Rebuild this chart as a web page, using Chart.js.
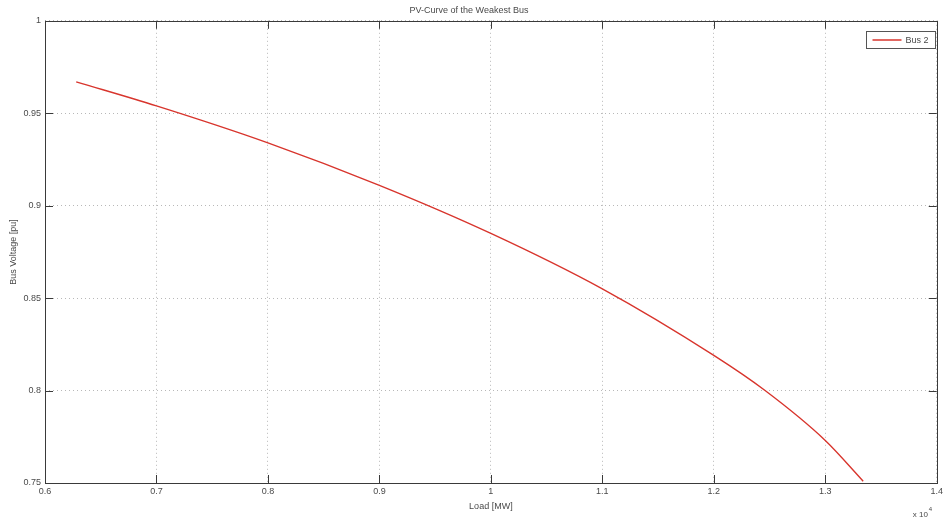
<!DOCTYPE html>
<html>
<head>
<meta charset="utf-8">
<script src="https://cdn.jsdelivr.net/npm/chart.js@4"></script>
<style>
  html, body { margin: 0; padding: 0; background: #fff; }
  #wrap { width: 946px; height: 520px; }
</style>
</head>
<body>
<div id="wrap"><canvas id="c" width="946" height="520"></canvas></div>
<script>
// ---- data ----
const chartTitle = 'PV-Curve of the Weakest Bus';
const seriesLabel = 'Bus 2';
const xAxisTitle = 'Load [MW]';
const yAxisTitle = 'Bus Voltage [pu]';
const loadMW = [6280, 7000, 8000, 9000, 10000, 11000, 12000, 12460, 13000, 13340];
const busVoltage = [0.967, 0.954, 0.934, 0.911, 0.885, 0.855, 0.819, 0.800, 0.773, 0.751];
const xTickLabels = ['0.6', '0.7', '0.8', '0.9', '1', '1.1', '1.2', '1.3', '1.4'];
const yTickLabels = ['0.75', '0.8', '0.85', '0.9', '0.95', '1'];
const xMultiplier = 'x 10';
const xExponent = '4';

const TEXT = '#4a4a4a';
const FRAME = '#3a3a3a';
const RED = '#d8352d';
const FONT = 'Liberation Sans, Arial, sans-serif';

const framePlugin = {
  id: 'matlabFrame',
  afterDraw(chart) {
    const ctx = chart.ctx;
    const a = chart.chartArea;
    const xs = chart.scales.x, ys = chart.scales.y;
    ctx.save();
    ctx.strokeStyle = FRAME;
    ctx.lineWidth = 1;
    ctx.strokeRect(Math.round(a.left) + 0.5, Math.round(a.top) + 0.5,
                   Math.round(a.right - a.left), Math.round(a.bottom - a.top));
    const tl = 8;
    ctx.beginPath();
    xs.ticks.forEach(t => {
      const px = Math.round(xs.getPixelForValue(t.value)) + 0.5;
      ctx.moveTo(px, a.bottom); ctx.lineTo(px, a.bottom - tl);
      ctx.moveTo(px, a.top); ctx.lineTo(px, a.top + tl);
    });
    ys.ticks.forEach(t => {
      const py = Math.round(ys.getPixelForValue(t.value)) + 0.5;
      ctx.moveTo(a.left, py); ctx.lineTo(a.left + tl, py);
      ctx.moveTo(a.right, py); ctx.lineTo(a.right - tl, py);
    });
    ctx.stroke();

    // legend box
    const ds = chart.data.datasets[0];
    const bw = 69, bh = 17;
    const bx = Math.round(a.right - 2 - bw) + 0.5;
    const by = Math.round(a.top + 10) + 0.5;
    ctx.fillStyle = '#fff';
    ctx.fillRect(bx, by, bw, bh);
    ctx.strokeStyle = '#555';
    ctx.strokeRect(bx, by, bw, bh);
    ctx.strokeStyle = ds.borderColor;
    ctx.lineWidth = 1.5;
    ctx.beginPath();
    ctx.moveTo(bx + 6, by + bh / 2);
    ctx.lineTo(bx + 35, by + bh / 2);
    ctx.stroke();
    ctx.fillStyle = TEXT;
    ctx.font = '9px ' + FONT;
    ctx.textBaseline = 'middle';
    ctx.textAlign = 'left';
    ctx.fillText(ds.label, bx + 39, by + bh / 2 + 0.5);

    // x 10^4 multiplier
    ctx.font = '8px ' + FONT;
    ctx.textBaseline = 'alphabetic';
    ctx.fillText(xMultiplier, a.right - 24, 517);
    const w = ctx.measureText(xMultiplier).width;
    ctx.font = '6px ' + FONT;
    ctx.fillText(xExponent, a.right - 24 + w + 1, 511);
    ctx.restore();
  }
};

new Chart(document.getElementById('c'), {
  type: 'line',
  data: {
    datasets: [{
      label: seriesLabel,
      data: loadMW.map((x, i) => ({ x: x, y: busVoltage[i] })),
      borderColor: RED,
      backgroundColor: RED,
      borderWidth: 1.4,
      pointRadius: 0,
      fill: false,
      cubicInterpolationMode: 'monotone'
    }]
  },
  options: {
    responsive: false,
    animation: false,
    layout: { padding: { left: 0, right: 8, top: 0, bottom: 0 } },
    plugins: {
      legend: { display: false },
      tooltip: { enabled: false },
      title: {
        display: true,
        text: chartTitle,
        color: TEXT,
        font: { family: FONT, size: 9, weight: 'normal' },
        padding: { top: 5, bottom: 5 }
      }
    },
    scales: {
      x: {
        type: 'linear',
        min: 6000, max: 14000,
        afterFit: s => { s.height = 37; },
        ticks: {
          stepSize: 1000,
          color: TEXT,
          font: { family: FONT, size: 9 },
          padding: 3,
          maxRotation: 0,
          callback: (v, i) => xTickLabels[i]
        },
        grid: { color: '#b8b8b8', lineWidth: 1, drawTicks: false },
        border: { display: false, dash: [1, 3] },
        title: {
          display: true, text: xAxisTitle, color: TEXT,
          font: { family: FONT, size: 9 },
          padding: { top: 0, bottom: 8 }
        }
      },
      y: {
        type: 'linear',
        min: 0.75, max: 1,
        afterFit: s => { s.width = 45; },
        ticks: {
          stepSize: 0.05,
          color: TEXT,
          font: { family: FONT, size: 9 },
          padding: 4,
          callback: (v, i) => yTickLabels[i]
        },
        grid: { color: '#b8b8b8', lineWidth: 1, drawTicks: false },
        border: { display: false, dash: [1, 3] },
        title: {
          display: true, text: yAxisTitle, color: TEXT,
          font: { family: FONT, size: 9 },
          padding: { top: 8, bottom: 0 }
        }
      }
    }
  },
  plugins: [framePlugin]
});
</script>
</body>
</html>
